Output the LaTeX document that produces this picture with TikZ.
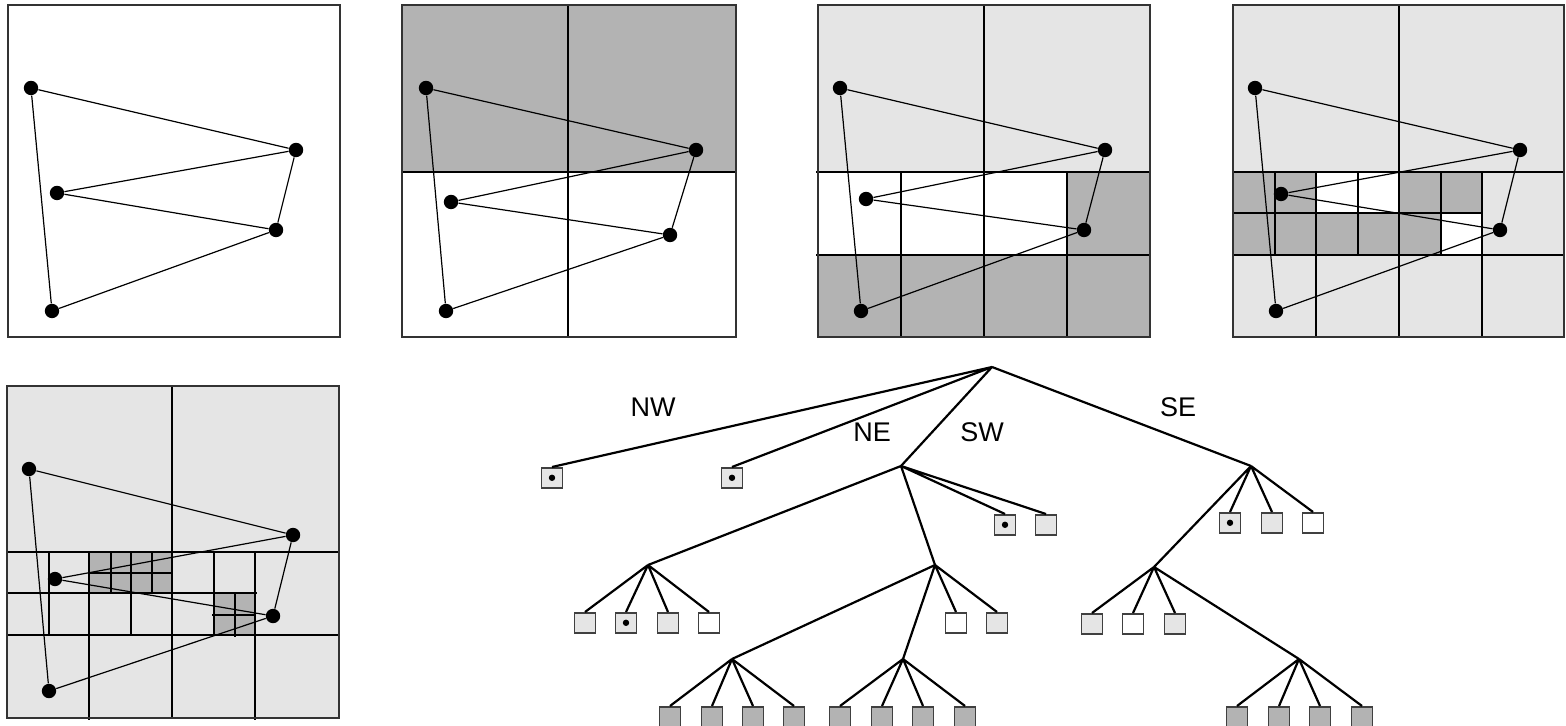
\documentclass[tikz,border=0pt]{standalone}
\usepackage{fontspec}
\setmainfont{Liberation Sans}
\definecolor{dgray}{HTML}{B3B3B3}
\definecolor{lgray}{HTML}{E5E5E5}

\begin{document}
\begin{tikzpicture}[x=0.5pt, y=-0.5pt,
    vtx/.style={circle, fill=black, inner sep=0, minimum size=7.2pt},
    poly/.style={line width=0.6pt},
    grid/.style={line width=0.65pt},
    frame/.style={draw=black!80, line width=0.75pt},
    branch/.style={line width=1.1pt},
    leaf/.style={draw=black!75, line width=0.8pt, inner sep=0,
      minimum width=10.5pt, minimum height=10pt, anchor=north},
    full/.style={path picture={\fill[black] (path picture bounding box.center) circle (1.6pt);}},
    lab/.style={font=\fontsize{13.5}{16}\selectfont}]
      \useasboundingbox (0,0) rectangle (1566,726);
      % PANEL 1
      \draw[frame] (8,5) rectangle (340,337);
      \node[vtx] (a1) at (31,88) {};
      \node[vtx] (b1) at (296,150) {};
      \node[vtx] (c1) at (57,193) {};
      \node[vtx] (d1) at (276,230) {};
      \node[vtx] (e1) at (52,311) {};
      \draw[poly] (a1) -- (b1) -- (c1) -- (d1) -- (e1) -- (a1) (b1) -- (d1);
      % PANEL 2
      \fill[dgray] (402,5) rectangle (736,172);
      \draw[grid] (568,5) -- (568,337) (402,172) -- (736,172);
      \draw[frame] (402,5) rectangle (736,337);
      \node[vtx] (a2) at (426,88) {};
      \node[vtx] (b2) at (696,150) {};
      \node[vtx] (c2) at (451,202) {};
      \node[vtx] (d2) at (670,235) {};
      \node[vtx] (e2) at (446,311) {};
      \draw[poly] (a2) -- (b2) -- (c2) -- (d2) -- (e2) -- (a2) (b2) -- (d2);
      % PANEL 3
      \fill[lgray] (818,5) rectangle (1150,172);
      \fill[dgray] (1067,172) rectangle (1150,255);
      \fill[dgray] (818,255) rectangle (1150,337);
      \draw[grid] (984,5) -- (984,337) (816,172) -- (1150,172) (816,255) -- (1150,255);
      \draw[grid] (901,172) -- (901,337) (1067,172) -- (1067,337);
      \draw[frame] (818,5) rectangle (1150,337);
      \node[vtx] (a3) at (840,88) {};
      \node[vtx] (b3) at (1105,150) {};
      \node[vtx] (c3) at (866,199) {};
      \node[vtx] (d3) at (1084,230) {};
      \node[vtx] (e3) at (861,311) {};
      \draw[poly] (a3) -- (b3) -- (c3) -- (d3) -- (e3) -- (a3) (b3) -- (d3);
      % PANEL 4
      \fill[lgray] (1233,5) rectangle (1564,337);
      \fill[dgray] (1233,172) rectangle (1316,213);
      \fill[dgray] (1399,172) rectangle (1482,213);
      \fill[dgray] (1233,213) rectangle (1441,255);
      \fill[white] (1316,172) rectangle (1399,213);
      \fill[white] (1441,213) rectangle (1482,255);
      \draw[grid] (1399,5) -- (1399,337) (1233,172) -- (1564,172) (1233,255) -- (1564,255);
      \draw[grid] (1316,172) -- (1316,337) (1482,172) -- (1482,337);
      \draw[grid] (1233,213) -- (1483,213);
      \draw[grid] (1275,172) -- (1275,255) (1358,172) -- (1358,255) (1441,172) -- (1441,255);
      \draw[frame] (1233,5) rectangle (1564,337);
      \node[vtx] (a4) at (1255,88) {};
      \node[vtx] (b4) at (1520,150) {};
      \node[vtx] (c4) at (1281,194) {};
      \node[vtx] (d4) at (1500,230) {};
      \node[vtx] (e4) at (1276,311) {};
      \draw[poly] (a4) -- (b4) -- (c4) -- (d4) -- (e4) -- (a4) (b4) -- (d4);
      % PANEL 5
      \fill[lgray] (7,386) rectangle (339,718);
      \fill[dgray] (89,552) rectangle (172,593);
      \fill[dgray] (214,593) rectangle (255,635);
      \draw[grid] (172,386) -- (172,718) (7,552) -- (340,552) (7,635) -- (340,635);
      \draw[grid] (89,552) -- (89,720) (255,552) -- (255,720);
      \draw[grid] (49,552) -- (49,636) (131,552) -- (131,636) (214,552) -- (214,636);
      \draw[grid] (7,593) -- (257,593) (89,573) -- (173,573) (212,615) -- (256,615);
      \draw[grid] (111,552) -- (111,593) (152,552) -- (152,593) (235,593) -- (235,637);
      \draw[frame] (7,386) rectangle (339,718);
      \node[vtx] (a5) at (29,469) {};
      \node[vtx] (b5) at (293,535) {};
      \node[vtx] (c5) at (55,579) {};
      \node[vtx] (d5) at (273,616) {};
      \node[vtx] (e5) at (49,691) {};
      \draw[poly] (a5) -- (b5) -- (c5) -- (d5) -- (e5) -- (a5) (b5) -- (d5);
      % TREE: INNER NODES
      \coordinate (t) at (992,367);
      \coordinate (t3) at (901,466);
      \coordinate (t4) at (1251,466);
      \coordinate (t31) at (648,565);
      \coordinate (t32) at (935,565);
      \coordinate (t321) at (732,659);
      \coordinate (t322) at (903,659);
      \coordinate (t41) at (1154,567);
      \coordinate (t414) at (1299,659);
      % TREE: LEAVES
      \node[leaf, fill=lgray, full] (t1) at (552,467) {};
      \node[leaf, fill=lgray, full] (t2) at (732,467) {};
      \node[leaf, fill=lgray, full] (t33) at (1005,514) {};
      \node[leaf, fill=lgray] (t34) at (1046,514) {};
      \node[leaf, fill=lgray] (t311) at (585,612) {};
      \node[leaf, fill=lgray, full] (t312) at (626,612) {};
      \node[leaf, fill=lgray] (t313) at (668,612) {};
      \node[leaf, fill=white] (t314) at (709,612) {};
      \node[leaf, fill=white] (t323) at (956,612) {};
      \node[leaf, fill=lgray] (t324) at (997,612) {};
      \node[leaf, fill=dgray] (t3211) at (670,706) {};
      \node[leaf, fill=dgray] (t3212) at (712,706) {};
      \node[leaf, fill=dgray] (t3213) at (753,706) {};
      \node[leaf, fill=dgray] (t3214) at (794,706) {};
      \node[leaf, fill=dgray] (t3221) at (840,706) {};
      \node[leaf, fill=dgray] (t3222) at (882,706) {};
      \node[leaf, fill=dgray] (t3223) at (923,706) {};
      \node[leaf, fill=dgray] (t3224) at (965,706) {};
      \node[leaf, fill=lgray, full] (t42) at (1230,512) {};
      \node[leaf, fill=lgray] (t43) at (1272,512) {};
      \node[leaf, fill=white] (t44) at (1313,512) {};
      \node[leaf, fill=lgray] (t411) at (1092,613) {};
      \node[leaf, fill=white] (t412) at (1133,613) {};
      \node[leaf, fill=lgray] (t413) at (1175,613) {};
      \node[leaf, fill=dgray] (t4141) at (1237,706) {};
      \node[leaf, fill=dgray] (t4142) at (1279,706) {};
      \node[leaf, fill=dgray] (t4143) at (1320,706) {};
      \node[leaf, fill=dgray] (t4144) at (1362,706) {};
      % TREE: BRANCHES
      \draw[branch] (t) -- (t1.north) (t) -- (t2.north) (t) -- (t3) (t) -- (t4);
      \draw[branch] (t3) -- (t31) (t3) -- (t32) (t3) -- (t33.north) (t3) -- (t34.north);
      \draw[branch] (t31) -- (t311.north) (t31) -- (t312.north) (t31) -- (t313.north) (t31) -- (t314.north);
      \draw[branch] (t32) -- (t321) (t32) -- (t322) (t32) -- (t323.north) (t32) -- (t324.north);
      \draw[branch] (t321) -- (t3211.north) (t321) -- (t3212.north) (t321) -- (t3213.north) (t321) -- (t3214.north);
      \draw[branch] (t322) -- (t3221.north) (t322) -- (t3222.north) (t322) -- (t3223.north) (t322) -- (t3224.north);
      \draw[branch] (t4) -- (t41) (t4) -- (t42.north) (t4) -- (t43.north) (t4) -- (t44.north);
      \draw[branch] (t41) -- (t411.north) (t41) -- (t412.north) (t41) -- (t413.north) (t41) -- (t414);
      \draw[branch] (t414) -- (t4141.north) (t414) -- (t4142.north) (t414) -- (t4143.north) (t414) -- (t4144.north);
      % LABELS
      \node[lab] (lnw) at (653,407) {NW};
      \node[lab] (lne) at (872,432) {NE};
      \node[lab] (lsw) at (982,432) {SW};
      \node[lab] (lse) at (1178,407) {SE};
    \end{tikzpicture}
\end{document}
